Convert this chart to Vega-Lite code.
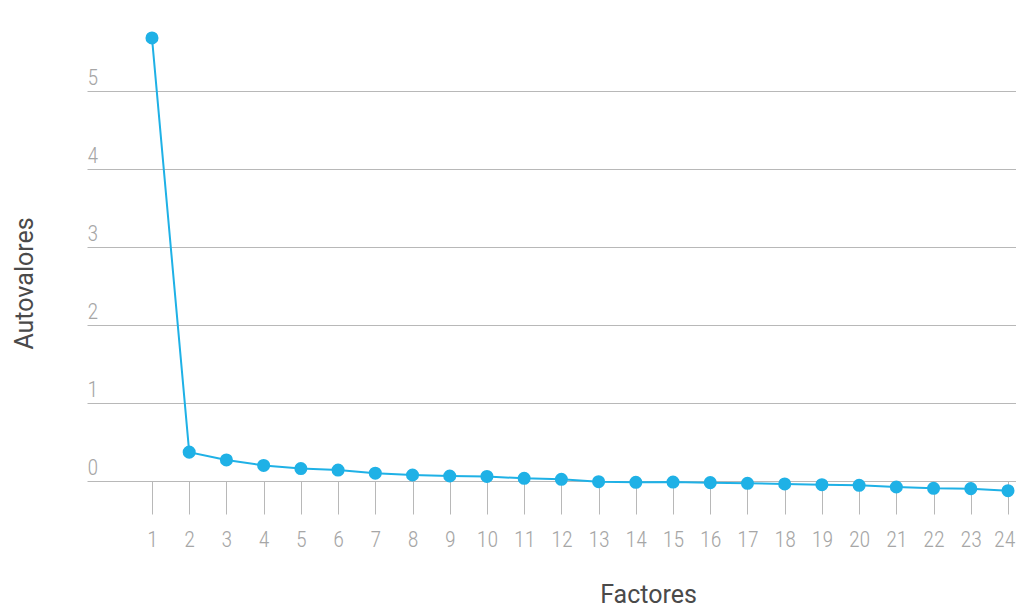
{
  "$schema": "https://vega.github.io/schema/vega-lite/v6.json",
  "autosize": "none",
  "width": 929,
  "height": 468,
  "padding": {"left": 87, "top": 13, "right": 0, "bottom": 126},
  "background": "white",
  "config": {"view": {"stroke": null}},
  "data": {"values": [
    {"factor": 1, "valor": 5.68},
    {"factor": 2, "valor": 0.37},
    {"factor": 3, "valor": 0.27},
    {"factor": 4, "valor": 0.20},
    {"factor": 5, "valor": 0.16},
    {"factor": 6, "valor": 0.14},
    {"factor": 7, "valor": 0.10},
    {"factor": 8, "valor": 0.077},
    {"factor": 9, "valor": 0.064},
    {"factor": 10, "valor": 0.058},
    {"factor": 11, "valor": 0.034},
    {"factor": 12, "valor": 0.022},
    {"factor": 13, "valor": -0.009},
    {"factor": 14, "valor": -0.017},
    {"factor": 15, "valor": -0.013},
    {"factor": 16, "valor": -0.021},
    {"factor": 17, "valor": -0.030},
    {"factor": 18, "valor": -0.038},
    {"factor": 19, "valor": -0.047},
    {"factor": 20, "valor": -0.055},
    {"factor": 21, "valor": -0.077},
    {"factor": 22, "valor": -0.094},
    {"factor": 23, "valor": -0.098},
    {"factor": 24, "valor": -0.124}
  ]},
  "encoding": {
    "x": {
      "field": "factor", "type": "quantitative",
      "scale": {"domain": [-0.746, 24.215], "nice": false, "zero": false},
      "axis": {
        "values": [1,2,3,4,5,6,7,8,9,10,11,12,13,14,15,16,17,18,19,20,21,22,23,24],
        "format": "d",
        "grid": false, "domain": false,
        "tickSize": 33, "tickColor": "#b8b8b8", "tickWidth": 1,
        "labelFont": "Roboto Condensed, DejaVu Sans Condensed, Liberation Sans Narrow, Roboto",
        "labelFontWeight": 300, "labelFontSize": 22, "labelColor": "#a6a6a6",
        "labelPadding": 15, "labelFlush": 10, "labelFlushOffset": 7, "labelOverlap": false,
        "title": "Factores",
        "titleFont": "Roboto", "titleFontWeight": 400, "titleFontSize": 25, "titleColor": "#4a4a4a",
        "titleX": 561, "titleY": 121, "titleBaseline": "alphabetic", "titleAlign": "center"
      }
    },
    "y": {
      "field": "valor", "type": "quantitative",
      "scale": {"domain": [0, 6], "nice": false, "zero": false},
      "axis": {
        "values": [0,1,2,3,4,5],
        "grid": true, "gridColor": "#b8b8b8", "gridWidth": 1,
        "domain": false, "ticks": false,
        "labelAlign": "left", "labelBaseline": "alphabetic", "labelPadding": 0, "labelOffset": -7,
        "labelFont": "Roboto Condensed, DejaVu Sans Condensed, Liberation Sans Narrow, Roboto",
        "labelFontWeight": 300, "labelFontSize": 22, "labelColor": "#a6a6a6",
        "title": "Autovalores",
        "titleFont": "Roboto", "titleFontWeight": 400, "titleFontSize": 25, "titleColor": "#4a4a4a",
        "titleAngle": -90, "titleX": -55, "titleY": 270, "titleBaseline": "alphabetic", "titleAlign": "center"
      }
    }
  },
  "layer": [
    {"mark": {"type": "line", "color": "#1fb1e6", "strokeWidth": 2, "clip": false}},
    {"mark": {"type": "circle", "color": "#1fb1e6", "opacity": 1, "size": 170, "clip": false}}
  ]
}
